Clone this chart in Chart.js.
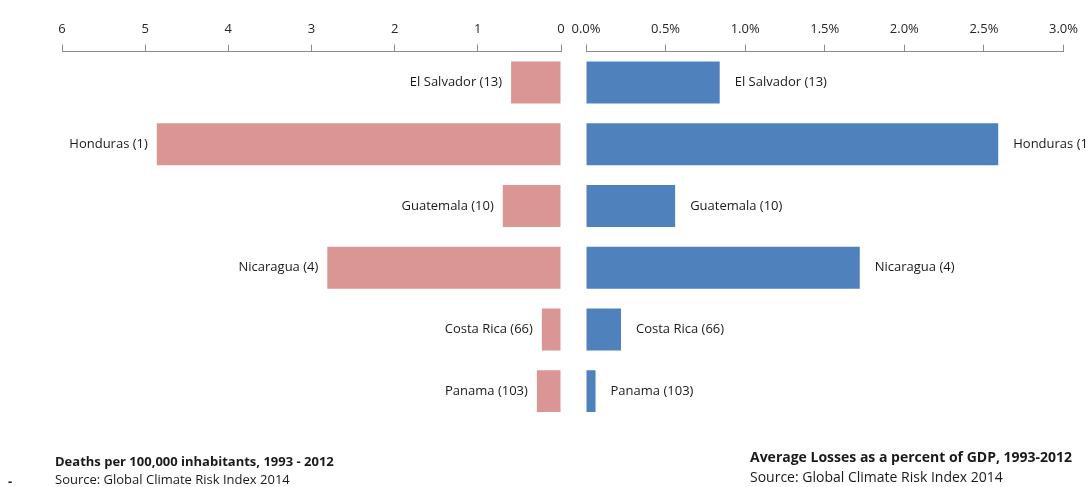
<!DOCTYPE html>
<html>
<head>
<meta charset="utf-8">
<script src="https://cdn.jsdelivr.net/npm/chart.js@4"></script>
<style>
  body { margin: 0; background: #fff; }
  #wrap { position: relative; width: 1086px; height: 487px; overflow: hidden; font-family: "Open Sans", sans-serif; color: #1a1a1a; }
  #wrap canvas { position: absolute; left: 0; top: 0; }
  .note { position: absolute; font-size: 13px; line-height: 18px; white-space: nowrap; }
  .note b { font-weight: 700; }
</style>
</head>
<body>
<div id="wrap">
  <canvas id="deathsChart" width="1086" height="487"></canvas>
  <canvas id="lossChart" width="1086" height="487"></canvas>
  <div class="note" style="left:55px; top:452px; font-size:13px;"><b>Deaths per 100,000 inhabitants, 1993 - 2012</b><br>Source: Global Climate Risk Index 2014</div>
  <div class="note" style="left:750px; top:447px; font-size:14px; line-height:20px;"><b>Average Losses as a percent of GDP, 1993-2012</b><br>Source: Global Climate Risk Index 2014</div>
  <div class="note" style="left:8px; top:472px; font-weight:700;">-</div>
</div>
<script>
// Countries with their Climate Risk Index rank
const countries = ['El Salvador (13)', 'Honduras (1)', 'Guatemala (10)', 'Nicaragua (4)', 'Costa Rica (66)', 'Panama (103)'];
// Deaths per 100,000 inhabitants
const deaths = [0.60, 4.86, 0.70, 2.81, 0.23, 0.29];
// Average losses as % of GDP
const gdpLoss = [0.84, 2.59, 0.56, 1.72, 0.22, 0.06];

const deathTicks = [0, 1, 2, 3, 4, 5, 6];
const lossTicks = [0, 0.5, 1, 1.5, 2, 2.5, 3];

const labelFont = '13px "Open Sans", sans-serif';

// Draw the country name next to the end of each bar
const barLabels = {
    id: 'barLabels',
    afterDatasetsDraw(chart, args, opts) {
        const ctx = chart.ctx;
        const meta = chart.getDatasetMeta(0);
        ctx.save();
        ctx.font = labelFont;
        ctx.fillStyle = '#1a1a1a';
        ctx.textBaseline = 'middle';
        ctx.textAlign = opts.side === 'left' ? 'right' : 'left';
        meta.data.forEach((bar, i) => {
            const x = opts.side === 'left' ? bar.x - opts.gap : bar.x + opts.gap;
            ctx.fillText(countries[i], x, bar.y);
        });
        ctx.restore();
    }
};

function makeChart(id, values, color, ticks, reverse, padding, side, gap, fmt) {
    return new Chart(document.getElementById(id), {
        type: 'bar',
        data: {
            labels: countries,
            datasets: [{
                data: values,
                backgroundColor: color,
                borderWidth: 0,
                barPercentage: 0.68,
                categoryPercentage: 1
            }]
        },
        options: {
            indexAxis: 'y',
            responsive: false,
            animation: false,
            layout: { padding: padding },
            plugins: {
                legend: { display: false },
                tooltip: { enabled: false },
                barLabels: { side: side, gap: gap }
            },
            scales: {
                x: {
                    position: 'top',
                    reverse: reverse,
                    min: ticks[0],
                    max: ticks[ticks.length - 1],
                    afterBuildTicks: (scale) => { scale.ticks = ticks.map(v => ({ value: v })); },
                    ticks: {
                        padding: 8,
                        color: '#262626',
                        font: { family: '"Open Sans", sans-serif', size: 13 },
                        maxRotation: 0,
                        callback: fmt
                    },
                    grid: {
                        drawOnChartArea: false,
                        drawTicks: true,
                        tickLength: 7,
                        color: '#8c8c8c'
                    },
                    border: { display: true, color: '#8c8c8c', width: 1 }
                },
                y: { display: false }
            }
        },
        plugins: [barLabels]
    });
}

makeChart('deathsChart', deaths, '#d99694', deathTicks, true,
    { left: 62, right: 525, top: 13, bottom: 65 }, 'left', 9, v => String(v));

makeChart('lossChart', gdpLoss, '#4f81bd', lossTicks, false,
    { left: 586, right: 20, top: 13, bottom: 65 }, 'right', 15, v => v.toFixed(1) + '%');
</script>
</body>
</html>
